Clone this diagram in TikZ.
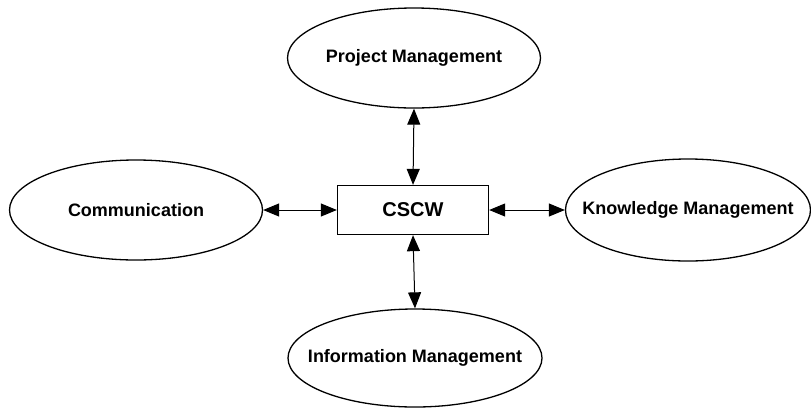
\documentclass[tikz,border=0pt]{standalone}
\usepackage{fontspec}
\setmainfont{Liberation Sans}
\usetikzlibrary{shapes.geometric,arrows.meta}
\begin{document}
\begin{tikzpicture}[x=1pt,y=-1pt,
  topic/.style={draw,line width=1.3pt,ellipse,inner sep=0pt,
    minimum width=250pt,minimum height=100pt},
  topictext/.style={font=\fontsize{18}{21}\selectfont\bfseries,inner sep=0pt},
  core/.style={draw,line width=1.3pt,rectangle,inner sep=0pt,
    minimum width=151pt,minimum height=49pt,
    font=\fontsize{20}{24}\selectfont\bfseries},
  tip/.style={Triangle[length=16pt,width=13pt]},
  link/.style={line width=1pt,{Triangle[length=16pt,width=13pt]}-{Triangle[length=16pt,width=13pt]}}]
  \useasboundingbox (0,0) rectangle (811,408);
  \node[core] (cscw) at (413,210) {CSCW};
  % outlines of the four surrounding topics
  \node[topic,minimum width=253pt] (pm) at (414,58) {};
  \node[topic,minimum width=253pt] (com) at (136,210) {};
  \node[topic,minimum width=245pt,minimum height=102pt] (km) at (688,210) {};
  \node[topic,minimum width=254pt,minimum height=98pt] (im) at (415,358) {};
  % their captions
  \node[topictext] (pmt) at (pm.center) {Project Management};
  \node[topictext] (comt) at (com.center) {Communication};
  \node[topictext] (kmt) at (km.center) {Knowledge Management};
  \node[topictext] (imt) at (im.center) {Information Management};
  \draw[link] (pm.south) -- (cscw.north);
  \draw[link] (im.north) -- (cscw.south);
  \draw[link] (com.east) -- (cscw.west);
  \draw[link] (km.west) -- (cscw.east);
\end{tikzpicture}
\end{document}
